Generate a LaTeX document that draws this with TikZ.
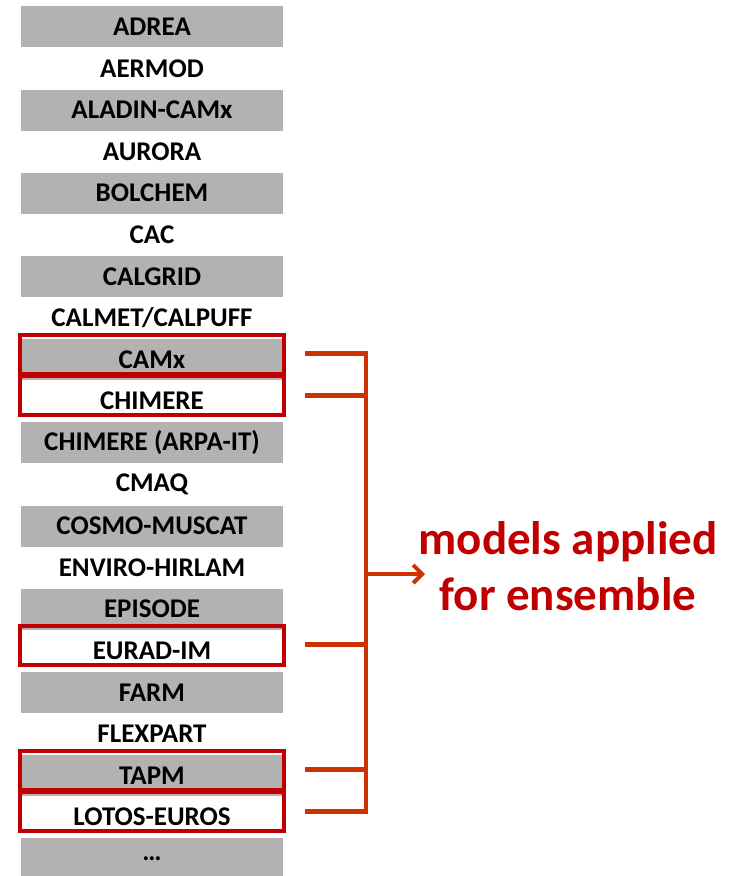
\documentclass[tikz,border=0pt]{standalone}
\usepackage{fontspec}
\setmainfont{Carlito}
\usetikzlibrary{arrows.meta,positioning,calc}
\definecolor{rowgray}{HTML}{B2B2B2}
\definecolor{boxred}{HTML}{C00000}
\definecolor{brackred}{HTML}{CC3300}

\begin{document}
\begin{tikzpicture}[x=1pt, y=-1pt,
    rowbox/.style={minimum width=262pt, minimum height=41pt, inner sep=0pt,
      font=\fontsize{27}{30}\selectfont\bfseries},
    grayrow/.style={rowbox, fill=rowgray},
    redbox/.style={draw=boxred, line width=4pt},
    brack/.style={draw=brackred, line width=5pt}]
    \useasboundingbox (0,0) rectangle (735,876);

    % model list
    \foreach \name/\txt [count=\i from 0] in {adrea/ADREA, aermod/AERMOD,
        aladin/ALADIN-CAMx, aurora/AURORA, bolchem/BOLCHEM, cac/CAC,
        calgrid/CALGRID, calmet/{CALMET/CALPUFF}, camx/CAMx, chimere/CHIMERE,
        chimarpa/{CHIMERE (ARPA-IT)}, cmaq/CMAQ, cosmo/COSMO-MUSCAT,
        enviro/ENVIRO-HIRLAM, episode/EPISODE, euradim/EURAD-IM, farm/FARM,
        flexpart/FLEXPART, tapm/TAPM, lotos/LOTOS-EUROS, more/{…}}{
      \ifodd\i
        \node[rowbox] (\name) at (152,{26.8+41.6*\i}) {\txt};
      \else
        \node[grayrow] (\name) at (152,{26.8+41.6*\i}) {\txt};
      \fi
    }

    % highlighted models and bracket
    \foreach \m in {camx,chimere,euradim,tapm,lotos}{
      \draw[redbox] ($(\m.west)+(-1,-25)$) rectangle ($(\m.east)+(1,14)$);
      \draw[brack] ($(\m.east)+(22,-6)$) -- ++(62,0);
    }
    \coordinate (btop) at ($(camx.east)+(83,-8.5)$);
    \coordinate (bbot) at ($(lotos.east)+(83,-3.5)$);
    \draw[brackred, line width=4pt] (btop) -- (bbot);

    \node[text=boxred, align=center, inner sep=0pt,
      font=\fontsize{47}{56}\selectfont\bfseries] (ensemble) at (568,566)
      {models applied\\for ensemble};
    \coordinate (fork) at (btop |- 0,574);
    \coordinate (tip) at (425,574);
    \draw[brackred, line width=4pt, -{Straight Barb[length=9pt,width=18pt]}]
      (fork) -- (tip);
\end{tikzpicture}
\end{document}
